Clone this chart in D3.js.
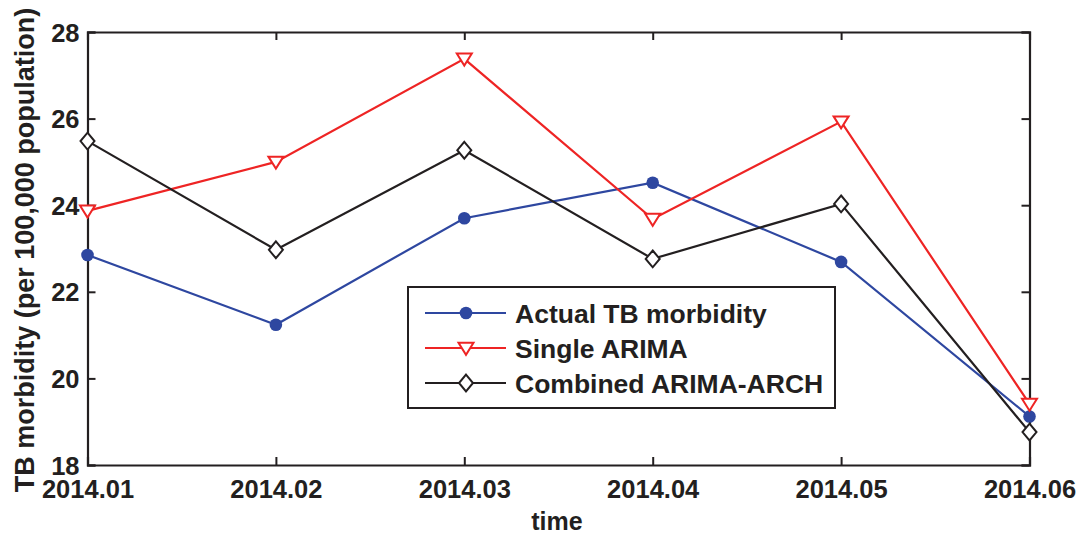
<!DOCTYPE html>
<html><head><meta charset="utf-8">
<script src="https://cdn.jsdelivr.net/npm/d3@7"></script>
<style>body{margin:0;background:#fff}text{font-family:"Liberation Sans",Arial,sans-serif;font-weight:bold;fill:#231f20}</style>
</head><body><svg id="c" width="1080" height="535"></svg>
<script>
const categories = ["2014.01","2014.02","2014.03","2014.04","2014.05","2014.06"];
const actual = [22.85, 21.24, 23.70, 24.52, 22.69, 19.12];
const arima = [23.87, 25.00, 27.38, 23.68, 25.93, 19.41];
const combined = [25.48, 22.97, 25.27, 22.76, 24.03, 18.76];
const yTicks = [18, 20, 22, 24, 26, 28];
const seriesNames = ["Actual TB morbidity", "Single ARIMA", "Combined ARIMA-ARCH"];

const svg = d3.select("#c");
const L = 87.5, R = 1029.5, T = 32, B = 465;
const x = d3.scalePoint().domain(categories).range([L, R]);
const y = d3.scaleLinear().domain([18, 28]).range([B, T]);
const ink = "#231f20";

// axes
const gx = svg.append("g").attr("transform", `translate(0,${B})`)
  .call(d3.axisBottom(x).tickSize(-8).tickPadding(15));
const gxt = svg.append("g").attr("transform", `translate(0,${T})`)
  .call(d3.axisTop(x).tickSize(-8).tickFormat(""));
const gy = svg.append("g").attr("transform", `translate(${L},0)`)
  .call(d3.axisLeft(y).tickValues(yTicks).tickSize(-8).tickPadding(8));
const gyr = svg.append("g").attr("transform", `translate(${R},0)`)
  .call(d3.axisRight(y).tickValues(yTicks).tickSize(-8).tickFormat(""));
[gx, gxt, gy, gyr].forEach(g => {
  g.selectAll("path").attr("stroke", ink).attr("stroke-width", 2.2);
  g.selectAll("line").attr("stroke", ink).attr("stroke-width", 2);
  g.selectAll("text").style("font-size", "25.5px").attr("fill", ink);
});
gx.selectAll("text").attr("dy", "0.71em");
gy.selectAll("text").attr("dy", "0.36em");

// axis titles
svg.append("text").attr("x", 557).attr("y", 530).attr("text-anchor", "middle")
  .style("font-size", "25px").text("time");
svg.append("text").attr("transform", `translate(34,250) rotate(-90)`)
  .attr("text-anchor", "middle").style("font-size", "27px")
  .text("TB morbidity (per 100,000 population)");

const line = d3.line().x((d, i) => x(categories[i])).y(d => y(d));
const colors = ["#2e47a0", "#ee2424", "#231f20"];
const series = [actual, arima, combined];

function marker(g, type, cx, cy, color) {
  if (type === 0) {
    g.append("circle").attr("cx", cx).attr("cy", cy).attr("r", 6.3).attr("fill", color);
  } else if (type === 1) {
    const s = 7.5;
    g.append("path").attr("d", `M${cx - s},${cy - s * 0.7}L${cx + s},${cy - s * 0.7}L${cx},${cy + s * 0.9}Z`)
      .attr("fill", "#fff").attr("stroke", color).attr("stroke-width", 2);
  } else {
    const s = 7;
    g.append("path").attr("d", `M${cx},${cy - s * 1.2}L${cx + s},${cy}L${cx},${cy + s * 1.2}L${cx - s},${cy}Z`)
      .attr("fill", "#fff").attr("stroke", color).attr("stroke-width", 2);
  }
}

series.forEach((s, k) => {
  svg.append("path").datum(s).attr("d", line).attr("fill", "none")
    .attr("stroke", colors[k]).attr("stroke-width", 2.2);
});
series.forEach((s, k) => {
  const g = svg.append("g");
  s.forEach((v, i) => marker(g, k, x(categories[i]), y(v), colors[k]));
});

// legend
const lg = svg.append("g");
lg.append("rect").attr("x", 408).attr("y", 287).attr("width", 427).attr("height", 121)
  .attr("fill", "#fff").attr("stroke", ink).attr("stroke-width", 2);
seriesNames.forEach((n, k) => {
  const cy = 313 + k * 35;
  lg.append("line").attr("x1", 425).attr("x2", 506).attr("y1", cy).attr("y2", cy)
    .attr("stroke", colors[k]).attr("stroke-width", 2.2);
  marker(lg, k, 466, cy, colors[k]);
  lg.append("text").attr("x", 515).attr("y", cy).attr("dy", "0.36em")
    .style("font-size", "26.5px").text(n);
});
</script></body></html>
